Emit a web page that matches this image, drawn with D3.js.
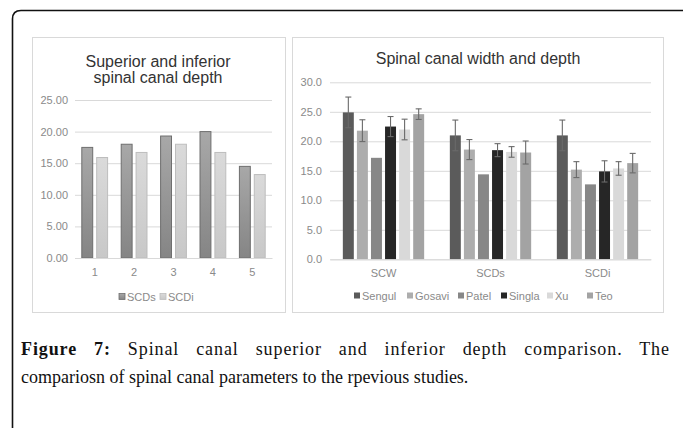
<!DOCTYPE html>
<html>
<head>
<meta charset="utf-8">
<script src="https://cdn.jsdelivr.net/npm/d3@7"></script>
<style>
  html, body { margin: 0; padding: 0; background: #fff; }
  svg { display: block; }
</style>
</head>
<body>
<svg id="chart" width="683" height="428"></svg>
<script>
// ---------- data ----------
const leftCategories = ["1", "2", "3", "4", "5"];
const leftSeries = ["SCDs", "SCDi"];
const scdsValues = [17.5, 18.0, 19.3, 20.0, 14.5];
const scdiValues = [15.9, 16.7, 18.0, 16.7, 13.2];
const leftTicks = [0, 5, 10, 15, 20, 25];

const rightCategories = ["SCW", "SCDs", "SCDi"];
const rightSeries = ["Sengul", "Gosavi", "Patel", "Singla", "Xu", "Teo"];
const sengulValues = [24.9, 21.0, 21.0];
const gosaviValues = [21.8, 18.6, 15.2];
const patelValues  = [17.2, 14.4, 12.7];
const singlaValues = [22.5, 18.5, 14.9];
const xuValues     = [22.0, 18.2, 15.4];
const teoValues    = [24.6, 18.1, 16.3];
const sengulErr = [2.6, 2.6, 2.6];
const gosaviErr = [1.85, 1.7, 1.35];
const patelErr  = [null, null, null];
const singlaErr = [1.7, 1.1, 1.8];
const xuErr     = [1.75, 0.9, 1.15];
const teoErr    = [0.9, 1.95, 1.65];
const rightTicks = [0, 5, 10, 15, 20, 25, 30];

const captionBold = "Figure 7:";
const captionLine1 = " Spinal canal superior and inferior depth comparison. The";
const captionLine2 = "compariosn of spinal canal parameters to the rpevious studies.";

// ---------- setup ----------
const svg = d3.select("#chart");
const sans = "'Liberation Sans', Arial, sans-serif";
const serif = "'Liberation Serif', 'Times New Roman', serif";
const gridColor = "#d9d9d9";
const tickColor = "#8a8a8a";

// outer frame (rounded top-left corner)
const fp = d3.path();
fp.moveTo(12.5, 428); fp.lineTo(12.5, 19); fp.quadraticCurveTo(12.5, 10.5, 21, 10.5); fp.lineTo(683, 10.5);
svg.append("path").attr("d", fp.toString())
  .attr("fill", "none").attr("stroke", "#111").attr("stroke-width", 1.6);

const defs = svg.append("defs");
function grad(id, top, bottom) {
  const g = defs.append("linearGradient").attr("id", id).attr("x1", 0).attr("y1", 0).attr("x2", 0).attr("y2", 1);
  g.append("stop").attr("offset", "0%").attr("stop-color", top);
  g.append("stop").attr("offset", "100%").attr("stop-color", bottom);
}
grad("gScds", "#a8a8a8", "#858585");
grad("gScdi", "#dadada", "#c8c8c8");

// ---------- left chart ----------
const L = svg.append("g");
L.append("rect").attr("x", 32.5).attr("y", 37.5).attr("width", 253).attr("height", 275)
  .attr("fill", "#fff").attr("stroke", gridColor);

L.append("text").attr("x", 158).attr("y", 67).attr("text-anchor", "middle")
  .attr("font-family", sans).attr("font-size", 16).attr("fill", "#333")
  .text("Superior and inferior");
L.append("text").attr("x", 158).attr("y", 82.5).attr("text-anchor", "middle")
  .attr("font-family", sans).attr("font-size", 16).attr("fill", "#333")
  .text("spinal canal depth");

const ly = d3.scaleLinear().domain([0, 25]).range([258, 100]);
const lx0 = d3.scaleBand().domain(leftCategories).range([75, 272]).paddingInner(0.32).paddingOuter(0.16);
const lx1 = d3.scaleBand().domain(leftSeries).range([0, lx0.bandwidth()]).paddingInner(0.2);

const lyAxis = L.append("g").attr("transform", "translate(75,0)")
  .call(d3.axisLeft(ly).tickValues(leftTicks).tickFormat(d3.format(".2f")).tickSize(-197).tickPadding(7));
lyAxis.select(".domain").remove();
lyAxis.selectAll(".tick line").attr("stroke", gridColor);
lyAxis.selectAll(".tick text").attr("font-family", sans).attr("font-size", 11).attr("fill", tickColor);

const leftData = leftSeries.map((s, i) => ({ key: s, values: i === 0 ? scdsValues : scdiValues }));
const leftFill = { SCDs: "url(#gScds)", SCDi: "url(#gScdi)" };
const leftStroke = { SCDs: "#6e6e6e", SCDi: "#bdbdbd" };
leftData.forEach(s => {
  L.append("g").selectAll("rect").data(leftCategories).join("rect")
    .attr("x", (c) => lx0(c) + lx1(s.key) + 0.5)
    .attr("y", (c, i) => ly(s.values[i]))
    .attr("width", lx1.bandwidth() - 1)
    .attr("height", (c, i) => ly(0) - ly(s.values[i]))
    .attr("fill", leftFill[s.key]).attr("stroke", leftStroke[s.key]).attr("stroke-width", 1);
});

const lxAxis = L.append("g").attr("transform", "translate(0,258)")
  .call(d3.axisBottom(lx0).tickSize(0).tickPadding(10));
lxAxis.select(".domain").attr("stroke", gridColor);
lxAxis.selectAll(".tick text").attr("font-family", sans).attr("font-size", 11).attr("fill", tickColor);

// left legend
const lLeg = L.append("g").attr("transform", "translate(0,297)");
const lLegX = [119, 160];
leftSeries.forEach((s, i) => {
  lLeg.append("rect").attr("x", lLegX[i]).attr("y", -3.5).attr("width", 6).attr("height", 6)
    .attr("fill", leftFill[s]).attr("stroke", leftStroke[s]).attr("stroke-width", 0.8);
  lLeg.append("text").attr("x", lLegX[i] + 8).attr("y", 4)
    .attr("font-family", sans).attr("font-size", 11).attr("fill", tickColor).text(s);
});

// ---------- right chart ----------
const R = svg.append("g");
R.append("rect").attr("x", 292.5).attr("y", 37.5).attr("width", 371).attr("height", 275)
  .attr("fill", "#fff").attr("stroke", gridColor);

R.append("text").attr("x", 478).attr("y", 64).attr("text-anchor", "middle")
  .attr("font-family", sans).attr("font-size", 16).attr("fill", "#333")
  .text("Spinal canal width and depth");

const ry = d3.scaleLinear().domain([0, 30]).range([259.3, 82.3]);
const rx0 = d3.scaleBand().domain(rightCategories).range([330, 651]).paddingInner(0.24).paddingOuter(0.12);
const rx1 = d3.scaleBand().domain(rightSeries).range([0, rx0.bandwidth()]).paddingInner(0.22);

const ryAxis = R.append("g").attr("transform", "translate(330,0)")
  .call(d3.axisLeft(ry).tickValues(rightTicks).tickFormat(d3.format(".1f")).tickSize(-321).tickPadding(8));
ryAxis.select(".domain").remove();
ryAxis.selectAll(".tick line").attr("stroke", gridColor);
ryAxis.selectAll(".tick text").attr("font-family", sans).attr("font-size", 11).attr("fill", tickColor);

const rightValues = [sengulValues, gosaviValues, patelValues, singlaValues, xuValues, teoValues];
const rightErrors = [sengulErr, gosaviErr, patelErr, singlaErr, xuErr, teoErr];
const rightColors = ["#5b5b5b", "#adadad", "#878787", "#262626", "#d9d9d9", "#a3a3a3"];
const errColor = "#6a6a6a";

rightSeries.forEach((s, si) => {
  const g = R.append("g");
  g.selectAll("rect").data(rightCategories).join("rect")
    .attr("x", c => rx0(c) + rx1(s))
    .attr("y", (c, i) => ry(rightValues[si][i]))
    .attr("width", rx1.bandwidth())
    .attr("height", (c, i) => ry(0) - ry(rightValues[si][i]))
    .attr("fill", rightColors[si]);
  const eg = R.append("g").attr("stroke", errColor).attr("stroke-width", 1.1);
  rightCategories.forEach((c, i) => {
    const e = rightErrors[si][i];
    if (e == null) return;
    const cx = rx0(c) + rx1(s) + rx1.bandwidth() / 2;
    const v = rightValues[si][i];
    eg.append("line").attr("x1", cx).attr("x2", cx).attr("y1", ry(v + e)).attr("y2", ry(v - e));
    eg.append("line").attr("x1", cx - 3).attr("x2", cx + 3).attr("y1", ry(v + e)).attr("y2", ry(v + e));
    eg.append("line").attr("x1", cx - 3).attr("x2", cx + 3).attr("y1", ry(v - e)).attr("y2", ry(v - e));
  });
});

const rxAxis = R.append("g").attr("transform", "translate(0,259.3)")
  .call(d3.axisBottom(rx0).tickSize(0).tickPadding(10));
rxAxis.select(".domain").attr("stroke", gridColor);
rxAxis.selectAll(".tick text").attr("font-family", sans).attr("font-size", 11).attr("fill", tickColor);

// right legend
const rLeg = R.append("g").attr("transform", "translate(0,296)");
const rLegX = [354, 407, 458, 501, 547, 587];
rightSeries.forEach((s, i) => {
  rLeg.append("rect").attr("x", rLegX[i]).attr("y", -3.5).attr("width", 6).attr("height", 6)
    .attr("fill", rightColors[i]);
  rLeg.append("text").attr("x", rLegX[i] + 8).attr("y", 4)
    .attr("font-family", sans).attr("font-size", 11).attr("fill", tickColor).text(s);
});

// ---------- caption ----------
const capSize = 18;
const t1 = svg.append("text").attr("x", 21).attr("y", 355)
  .attr("font-family", serif).attr("font-size", capSize).attr("fill", "#111");
t1.append("tspan").attr("font-weight", "bold").text(captionBold);
t1.append("tspan").text(captionLine1);
// justify line 1 to the right margin: spread extra room over letters and spaces
const full1 = captionBold + captionLine1;
const natural = t1.node().getComputedTextLength();
const extra = 648 - natural;
const nChars = full1.length - 1;
const nSpaces = full1.split(" ").length - 1;
const ls = Math.min(0.9, (extra * 0.45) / nChars);
const ws = (extra - ls * nChars) / nSpaces;
t1.attr("letter-spacing", ls).attr("word-spacing", ws);

svg.append("text").attr("x", 21).attr("y", 383)
  .attr("font-family", serif).attr("font-size", capSize).attr("fill", "#111")
  .text(captionLine2);
</script>
</body>
</html>
